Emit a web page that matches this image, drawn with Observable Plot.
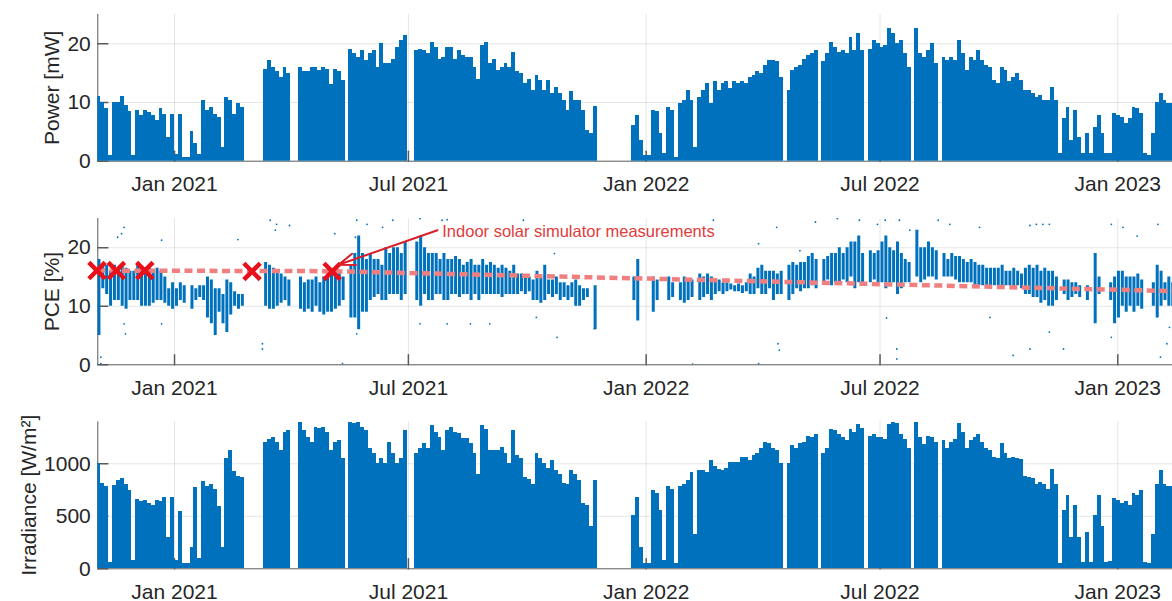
<!DOCTYPE html>
<html>
<head>
<meta charset="utf-8">
<script src="https://cdn.jsdelivr.net/npm/d3@7"></script>
<script src="https://cdn.jsdelivr.net/npm/@observablehq/plot@0.6"></script>
<style>
  body { margin: 0; background: #fff; }
  #chart { width: 1172px; }
  #chart svg { display: block; }
</style>
</head>
<body>
<div id="chart"></div>
<script>
// Field data, one sample (peak of the period) every 3 days from 2 Nov 2020; null = no logging
const sampleStart = "2020-11-02";
const sampleStepDays = 3;

const powerMW = [
  11, 10, 9, 1, 10, 10, 11, 9.5, 8.5, 1,
  8.6, 7.8, 8.6, 8.3, 7.8, 7, 8.9, 8, 4, 8,
  1.2, 8, 0.7, 0.7, 5, 3, 1.2, 10.3, 8.6, 9.2,
  8, 7.5, 2.4, 10.9, 10.3, 8, 9.8, 9.2, null, null,
  null, null, null, 15.7, 17.2, 16, 15.2, 14.3, 16, 14.9,
  null, null, 16, 15.2, 15.2, 16, 16, 15.5, 16, 15.7,
  13, 15.7, 15.2, 13.7, null, 19, 18.3, 17.7, 18.9, 17.2,
  18.3, 18.9, 16, 20, 16.6, 16.6, 17.4, 19.4, 20.6, 21.4,
  null, null, 18.9, 19.1, 18.9, 18.3, 20.3, 19.4, 17.4, 17.7,
  19.4, 19.4, 17.4, 18.9, 18, 17.7, 17.7, 16, 14, 19.7,
  20.3, 16.6, 17.4, 15.5, 16, 16.6, 16, 18.6, 15.2, 14.9,
  13.2, 14, 12, 14.6, 13.8, 12, 13.8, 11.5, 12.6, 11.5,
  10.3, 8.6, 11.8, 10.3, 10.3, 8.6, 5.2, 4.7, 9.3, null,
  null, null, null, null, null, null, null, null, 6.1, 7.8,
  3.5, 1, 1, 8.6, 8.4, 4.7, 1.3, 9.2, 8.6, 0.7,
  9.8, 10.3, 12, 10.3, 2.4, 10.9, 12, 13.2, 9.8, 13.5,
  12, 13.2, 13.5, 12.3, 13.5, 13.2, 13.5, 13.2, 14.3, 14.6,
  15.2, 14.9, 16.3, 17.2, 17.2, 16.9, 14.3, null, 12, 15.5,
  16, 16.3, 17.4, 18, 18.3, 18.9, null, 16.9, 18.3, 20.3,
  19.4, 18.6, 18.9, 18.3, 21.1, 18.9, 21.7, 18.9, null, 19.1,
  20.6, 20, 19.4, 19.7, 22.6, 21.7, 20, 20.6, 18.3, 16,
  null, 22.6, 18.3, 17.7, 18.9, 20, 16.6, null, 17.7, 17.2,
  17.7, 17.2, 20.6, 18.3, 15.5, 17.7, 17.2, 18.9, 17.2, 16.3,
  16, 13.8, 13.2, 16, 15.5, 13.5, 14.3, 14.9, 13.8, 12,
  12, 11.5, 10.9, 11.2, 10.3, 10.3, 12.6, 10.3, 1.3, 7.2,
  9.2, 3.5, 8.6, 4.1, 1.3, 4.7, 1.3, 5.8, 7.8, 4.7,
  1.3, 1.3, 8.1, 7.8, 7.5, 6.4, 7.2, 9.2, 8.9, 8.1,
  1.3, 1, 4.7, 10, 11.5, 10.3, 9.8, 9.8
];

const irradianceWm2 = [
  1000, 810, 780, 60, 790, 840, 860, 800, 745, 80,
  660, 640, 650, 620, 600, 650, 640, 680, 300, 680,
  80, 550, 50, 50, 200, 770, 100, 830, 780, 800,
  760, 590, 200, 1050, 1130, 930, 880, 870, null, null,
  null, null, null, 1200, 1230, 1250, 1200, 1130, 1300, 1320,
  null, null, 1390, 1320, 1250, 1200, 1350, 1340, 1350, 1300,
  1130, 1200, 1220, 1050, null, 1390, 1380, 1390, 1350, 1320,
  1150, 1100, 1000, 1050, 1000, 1200, 1100, 1000, 1050, 1320,
  null, null, 1100, 1150, 1190, 1150, 1365, 1300, 1250, 1130,
  1320, 1350, 1300, 1290, 1240, 1240, 1190, 1100, 900, 1365,
  1330, 1130, 1130, 1130, 1160, 1100, 1000, 1320, 1080, 1050,
  870, 850, 800, 1100, 1050, 1000, 960, 1030, 940, 900,
  810, 800, 940, 900, 840, 620, 600, 400, 840, null,
  null, null, null, null, null, null, null, null, 510, 680,
  200, 50, 50, 745, 720, 560, 80, 780, 760, 50,
  780, 800, 840, 920, 330, 940, 940, 920, 1030, 970,
  950, 940, 960, 1015, 1015, 1010, 1060, 1060, 1030, 1080,
  1100, 1150, 1200, 1190, 1150, 1130, 1000, null, 1000, 1170,
  1150, 1190, 1200, 1260, 1250, 1280, null, 1100, 1150, 1330,
  1320, 1280, 1250, 1220, 1330, 1300, 1370, 1340, null, 1260,
  1280, 1250, 1250, 1230, 1370, 1390, 1380, 1280, 1230, 1150,
  null, 1390, 1250, 1180, 1260, 1250, 1200, null, 1220, 1150,
  1200, 1230, 1380, 1300, 1150, 1220, 1250, 1280, 1200, 1150,
  1130, 1060, 1050, 1190, 1100, 1050, 1060, 1050, 1040, 880,
  870, 860, 800, 820, 800, 760, 950, 800, 50, 560,
  700, 300, 600, 300, 60, 350, 60, 510, 700, 400,
  60, 70, 670, 650, 620, 640, 600, 714, 700, 745,
  60, 50, 330, 800, 940, 800, 780, 780
];

// PCE spread per sample period (lowest / highest reading)
const pceLow = [
  5, 13, 12, 10, 11, 11, 10, 9.5, 11, 11,
  11, 10, 10, 10, 10.5, 11, 11, 10.5, 10, 9.5,
  10, 11, 10.5, null, 9.5, 11, 11.5, 11, 8, 7,
  5, 9, 7, 5.5, 8.5, 10, 9.5, 10, null, null,
  null, null, null, 10, 9.5, 9.5, 10, 10.5, 11, 10,
  null, null, 9.5, 9, 9.5, 9, 10, 9, 8.5, 9,
  9, 9.5, 10, 11, null, 8, 8, 6, 9, 9,
  11, 11.5, 12, 11, 11, 12, 12, 12, 11, 12,
  null, null, 11, 10, 12, 11, 11, 12, 12, 11,
  11, 12, 12, 11.5, 12, 12, 11, 12, 11, 12,
  12, 12, 12, 12, 11.5, 12, 12, 12, 12, 12.5,
  12, 12.5, 11, 11, 10.5, 11, 12, 11.5, 12, 11,
  11.5, 11, 11.5, 10, 10, 11, 11.5, null, 6, null,
  null, null, null, null, null, null, null, null, 11, 7.5,
  null, null, null, 9, 11, null, null, 11, 11.5, null,
  11, 10.5, 11, 11.5, null, 11, 11.5, 12, 11, 12,
  12.5, 12, 12.5, 12.8, 12.5, 12.5, 12.2, 12.5, 12, 12,
  13, 12, 12, 13, 11, 12, 12, null, 11, 12,
  13, 12.5, 13, 13, 13.5, 13, null, 14, 14.5, 13.5,
  14, 14, 14.5, 14, 15, 13, 14, 14, null, 14,
  14.5, 14, 14, 13, 13.5, 14, 12, 13, 14, 14,
  null, 15, 14, 14.5, 15, 15, 14.5, null, 15, 15,
  15, 14.5, 14, 14, 14, 14, 13.5, 13.5, 13.5, 13.5,
  13.5, 13.5, 13.5, 13, 13.5, 13.5, 13, 13.5, 13, 12,
  12, 11.5, 11.5, 10.5, 11, 10, 10, 11, null, 12,
  11, 11.5, 12, 11.5, null, 11, null, 7, 12, null,
  null, 11, 7, 8, 10, 9, 10, 9, 10, 9.5,
  null, null, 10, 8, 10, 11, 10, 10
];

const pceHigh = [
  18, 17, 17, 16, 17, 16.5, 17, 16.5, 16, 16,
  17, 16, 16.5, 16.5, 16, 16.5, 16, 15, 13, 14,
  13, 14, 13.5, null, 13.5, 13, 13.5, 13.5, 15, 14.5,
  13, 13, 12, 14.5, 14, 12.5, 12, 12, null, null,
  null, null, null, 17.5, 17, 16.5, 16, 15.5, 15, 14.5,
  null, null, 15, 14, 14.5, 14.5, 15, 14, 15, 15.5,
  16, 16.5, 16, 15, null, 17, 19, 22, 19, 18,
  19, 18, 18, 17, 20, 19, 20, 20, 19, 21,
  null, null, 21, 22, 20, 19, 19, 19, 18, 19,
  18, 18, 18.5, 18, 17, 17.5, 18, 17, 17, 18,
  17, 17.5, 17, 16.5, 17, 16.5, 16, 17, 15.5, 15.5,
  15, 15, 14.5, 16, 15, 17, 14.5, 14.5, 15, 14,
  14, 13.5, 14, 14.5, 13.5, 13, 13, null, 13.5, null,
  null, null, null, null, null, null, null, null, 15, 18,
  null, null, null, 15, 14.5, null, null, 15, 14, null,
  14, 15, 14.5, 14.5, null, 15.5, 15, 15.5, 15, 14.5,
  14.5, 14, 14, 13.8, 13.5, 13.8, 13.5, 14, 15.5, 15,
  16.5, 17, 16, 16, 16, 15.5, 16, null, 17, 17.5,
  17, 17.5, 17.5, 18.5, 19, 18, null, 18, 18.5, 19,
  19, 20, 19, 20, 21, 21, 22, 19, null, 19.5,
  19, 19.5, 21, 22, 20, 19.5, 21, 19, 18, 17.5,
  null, 23, 20, 20, 21, 20, 19.5, null, 19, 18,
  19, 18.5, 18.5, 18, 17.5, 18, 17.5, 17, 17, 16.5,
  16.5, 16.5, 16.5, 17, 16, 16, 16.5, 16, 15.5, 16.5,
  17, 16.5, 17, 16, 16.5, 16, 16, 15, null, 14.5,
  14.5, 14, 14, 13.5, null, 13.5, null, 19, 15, null,
  null, 14, 15, 16, 16, 15, 15, 15, 15.5, 14.5,
  null, null, 14, 17, 16, 14, 15, 14
];

// Isolated PCE readings outside the daily spread
const pceOutlierDates = [
  "2020-11-05", "2020-11-05", "2020-11-18", "2020-11-21", "2020-11-23", "2020-11-23", "2020-11-24",
  "2020-12-22", "2020-12-22", "2021-02-19", "2021-03-10", "2021-03-10", "2021-03-16", "2021-03-21",
  "2021-03-20", "2021-03-31", "2021-05-05", "2021-05-11", "2021-05-21", "2021-05-22", "2021-05-22",
  "2021-05-30", "2021-06-11", "2021-06-19", "2021-07-10", "2021-07-10", "2021-07-27", "2021-07-31",
  "2021-07-31", "2021-08-18", "2021-09-02", "2021-09-28", "2021-10-08", "2021-10-22", "2021-10-24",
  "2021-11-22", "2022-02-06", "2022-02-22", "2022-03-29", "2022-03-29", "2022-04-12", "2022-04-13",
  "2022-04-14", "2022-04-30", "2022-05-12", "2022-05-29", "2022-06-15", "2022-06-29", "2022-07-05",
  "2022-07-06", "2022-07-14", "2022-07-14", "2022-07-16", "2022-07-24", "2022-08-15", "2022-08-24",
  "2022-09-16", "2022-09-24", "2022-10-12", "2022-10-25", "2022-10-25", "2022-10-30", "2022-11-04",
  "2022-11-09", "2022-11-09", "2022-11-20", "2022-12-27", "2022-12-27", "2023-01-05", "2023-01-16",
  "2023-02-01", "2023-02-03", "2023-02-08", "2023-02-10"
];
const pceOutlierValues = [
  1.3, 0.2, 21.8, 22.4, 23.5, 7, 5.3,
  21.3, 7, 21.4, 3.6, 2.7, 24.7, 24,
  23, 23.8, 22.4, 0.2, 21.8, 24.7, 5.3,
  24, 23.5, 24.7, 25, 7, 24.7, 24.8,
  7, 7, 7, 24.7, 8.1, 19, 4.7,
  6.2, 0.1, 24.7, 20.7, 0.2, 23.5, 3.6,
  2.5, 19.5, 24.4, 25, 24.7, 24, 24.7,
  8, 2.7, 1, 24.7, 23, 24.7, 24,
  23.5, 8.1, 1.6, 2.7, 23.8, 24, 24,
  24, 5.6, 2.7, 24, 4.7, 23.5, 22,
  24, 1.3, 3.6, 6.4
];

// Indoor solar simulator check-ups and the fitted PCE trend
const simDates = ["2020-11-02", "2020-11-17", "2020-12-09", "2021-03-02", "2021-05-03"];
const simPCE = [16.1, 16.1, 16.1, 15.95, 15.95];
const trendDates = ["2020-11-02", "2021-05-03", "2023-02-12"];
const trendPCE = [16.1, 16.0, 12.6];

const annotationText = "Indoor solar simulator measurements";
const annotationFrom = {date: "2021-07-23T12:00", pce: 23.0};
const annotationTo = {date: "2021-05-08", pce: 17.1};
const annotationAt = {date: "2021-07-27T05:00", pce: 22.7};

const xTickDates = ["2021-01-01", "2021-07-01", "2022-01-01", "2022-07-01", "2023-01-01"];
const powerTicks = [0, 10, 20];
const pceTicks = [0, 10, 20];
const irradianceTicks = [0, 500, 1000];

// ---------------------------------------------------------------------------
const DAY = 864e5;
const utc = (s) => new Date(s.length > 10 ? s + "Z" : s + "T00:00Z");
const t0 = utc(sampleStart).getTime();
const xDomain = [new Date(Date.UTC(2020, 10, 2, 15)), new Date(Date.UTC(2023, 1, 12, 8))];
const xTicks = xTickDates.map(utc);

const BLUE = "#0072BD";
const AXIS = "#5a5a5a";
const FONT = "'Liberation Sans', Arial, Helvetica, sans-serif";

function sampled(values) {
  return values
    .map((v, i) => ({
      start: new Date(t0 + i * sampleStepDays * DAY),
      end: new Date(t0 + (i + 1) * sampleStepDays * DAY),
      v
    }))
    .filter((d) => d.v != null);
}

const powerData = sampled(powerMW);
const irradianceData = sampled(irradianceWm2);
const pceData = pceLow
  .map((lo, i) => ({
    mid: new Date(t0 + (i + 0.5) * sampleStepDays * DAY),
    lo,
    hi: pceHigh[i]
  }))
  .filter((d) => d.lo != null && d.hi != null);
const pceOutliers = pceOutlierDates.map((d, i) => ({date: utc(d), v: pceOutlierValues[i]}));
const sims = simDates.map((d, i) => ({date: utc(d), v: simPCE[i]}));
const trend = trendDates.map((d, i) => ({date: utc(d), v: trendPCE[i]}));

// short inward tick marks, MATLAB style
const tickShape = {draw(context, l) { context.moveTo(0, 0); context.lineTo(0, -l); }};

function panel({height, marginTop, marginBottom, yDomain, yTicks, label, labelOffset, marks}) {
  return Plot.plot({
    width: 1172,
    height,
    marginLeft: 97.3,
    marginRight: 0,
    marginTop,
    marginBottom,
    style: {fontFamily: FONT, fontSize: "21px", color: "#262626", background: "#fff", overflow: "visible"},
    x: {type: "utc", domain: xDomain},
    y: {domain: yDomain},
    marks: [
      Plot.gridX(xTicks, {stroke: "#000", strokeOpacity: 0.1}),
      Plot.gridY(yTicks.filter((t) => t > 0), {stroke: "#000", strokeOpacity: 0.1}),
      Plot.ruleX([xDomain[0]], {stroke: AXIS, strokeWidth: 1}),
      Plot.ruleY([yDomain[0]], {stroke: AXIS, strokeWidth: 1}),
      Plot.vector(xTicks, {x: (d) => d, y: yDomain[0], length: 10, rotate: 0, anchor: "start", shape: tickShape, stroke: AXIS}),
      Plot.vector(yTicks, {x: xDomain[0], y: (d) => d, length: 10, rotate: 90, anchor: "start", shape: tickShape, stroke: AXIS}),
      ...marks,
      Plot.axisX(xTicks, {tickSize: 0, tickPadding: 15, tickFormat: d3.utcFormat("%b %Y"), label: null}),
      Plot.axisY(yTicks, {
        tickSize: 0, tickPadding: 7, tickFormat: d3.format("d"),
        label, labelAnchor: "center", labelArrow: "none", labelOffset
      })
    ]
  });
}

const chart = document.getElementById("chart");

chart.append(panel({
  height: 200, marginTop: 13.95, marginBottom: 39.3,
  yDomain: [0, 25], yTicks: powerTicks, label: "Power [mW]", labelOffset: 54,
  marks: [
    Plot.rectY(powerData, {x1: "start", x2: "end", y: "v", fill: BLUE, clip: true, shapeRendering: "crispEdges"})
  ]
}));

chart.append(panel({
  height: 200, marginTop: 18, marginBottom: 35.7,
  yDomain: [0, 25], yTicks: pceTicks, label: "PCE [%]", labelOffset: 54,
  marks: [
    Plot.ruleX(pceData, {x: "mid", y1: "lo", y2: "hi", stroke: BLUE, strokeWidth: 3, clip: true}),
    Plot.dot(pceOutliers, {x: "date", y: "v", r: 0.9, fill: BLUE, stroke: null, clip: true}),
    Plot.line(trend, {
      x: "date", y: "v", stroke: "#f08080", strokeWidth: 4.5,
      strokeDasharray: "8,4.5", strokeLinecap: "butt"
    }),
    Plot.dot(sims, {x: "date", y: "v", symbol: "times", r: 7.5, stroke: "#e8101a", strokeWidth: 4.5}),
    Plot.arrow([0], {
      x1: () => utc(annotationFrom.date), y1: () => annotationFrom.pce,
      x2: () => utc(annotationTo.date), y2: () => annotationTo.pce,
      stroke: "#dc1e28", strokeWidth: 2, headLength: 13, headAngle: 40
    }),
    Plot.text([annotationText], {
      x: () => utc(annotationAt.date), y: () => annotationAt.pce, text: (d) => d,
      textAnchor: "start", fill: "#df3c3c", fontSize: 16.5
    })
  ]
}));

chart.append(panel({
  height: 201, marginTop: 21.3, marginBottom: 32.7,
  yDomain: [0, 1400], yTicks: irradianceTicks, label: "Irradiance [W/m²]", labelOffset: 77,
  marks: [
    Plot.rectY(irradianceData, {x1: "start", x2: "end", y: "v", fill: BLUE, clip: true, shapeRendering: "crispEdges"})
  ]
}));
</script>
</body>
</html>
